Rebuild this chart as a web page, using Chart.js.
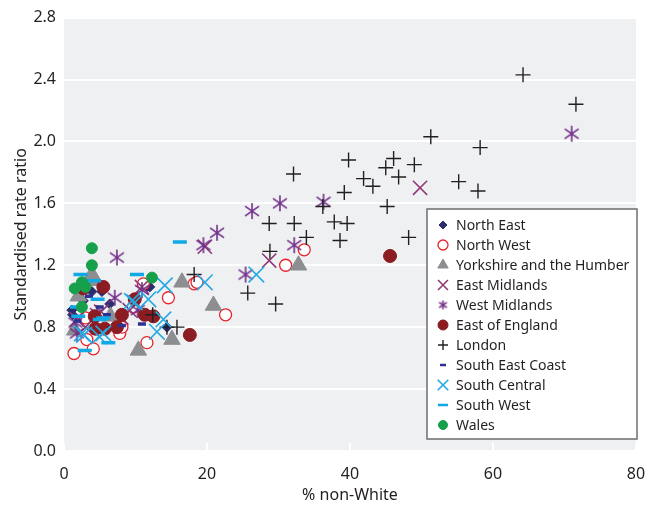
<!DOCTYPE html>
<html>
<head>
<meta charset="utf-8">
<script src="https://cdn.jsdelivr.net/npm/chart.js@4/dist/chart.umd.min.js"></script>
<style>
  html, body { margin: 0; padding: 0; background: #fff; }
  #wrap { width: 652px; height: 505px; position: relative; }
</style>
</head>
<body>
<div id="wrap"><canvas id="rateChart"></canvas></div>
<script>
// Данные: % non-White (x) и standardised rate ratio (y) по регионам
const regions = ['North East', 'North West', 'Yorkshire and the Humber', 'East Midlands',
    'West Midlands', 'East of England', 'London', 'South East Coast', 'South Central',
    'South West', 'Wales'];

const northEast = [[1.1, 0.91], [1.2, 0.88], [2.7, 0.97], [3.9, 1.03], [5.3, 1.03], [5.5, 1.04],
    [4.5, 0.79], [6.4, 0.95], [8.3, 0.82], [11.6, 1.06], [12.0, 1.06], [14.4, 0.80]];
const northWest = [[1.4, 0.63], [3.2, 0.72], [4.1, 0.66], [7.8, 0.76], [8.1, 0.80], [9.7, 0.93],
    [11.1, 1.08], [11.6, 0.70], [14.6, 0.99], [18.2, 1.08], [18.6, 1.09], [22.6, 0.88],
    [31.0, 1.20], [33.6, 1.30], [3.0, 0.86]];
const yorkshire = [[2.0, 1.00], [3.9, 1.14], [4.1, 1.10], [1.5, 0.78], [6.5, 0.87], [10.4, 0.65],
    [15.1, 0.72], [16.5, 1.09], [20.9, 0.94], [32.8, 1.20]];
const eastMidlands = [[1.8, 0.85], [3.0, 0.80], [5.2, 0.90], [9.2, 0.91], [10.9, 1.06],
    [19.7, 1.32], [28.7, 1.23], [49.8, 1.70]];
const westMidlands = [[1.6, 0.83], [1.8, 0.76], [4.6, 0.89], [7.1, 0.99], [7.4, 1.25],
    [10.3, 0.91], [10.9, 1.04], [21.4, 1.41], [19.5, 1.33], [25.4, 1.14], [26.3, 1.55],
    [30.2, 1.60], [32.2, 1.33], [36.3, 1.61], [71.0, 2.05]];
const eastOfEngland = [[2.7, 1.05], [4.3, 0.87], [4.4, 0.79], [5.5, 1.06], [5.7, 0.79],
    [7.4, 0.80], [8.1, 0.88], [9.9, 0.98], [11.3, 0.88], [12.5, 0.87], [17.6, 0.75],
    [45.6, 1.26]];
const london = [[12.4, 0.88], [14.4, 0.80], [15.8, 0.80], [18.2, 1.14], [25.7, 1.02],
    [28.7, 1.47], [28.8, 1.29], [29.6, 0.95], [32.1, 1.79], [32.2, 1.47], [33.9, 1.38],
    [36.2, 1.58], [37.8, 1.48], [38.6, 1.36], [39.2, 1.67], [39.6, 1.47], [39.8, 1.88],
    [41.9, 1.76], [43.2, 1.71], [45.0, 1.83], [45.2, 1.58], [46.1, 1.89], [46.8, 1.77],
    [48.2, 1.38], [49.0, 1.85], [51.3, 2.03], [55.2, 1.74], [57.9, 1.68], [58.2, 1.96],
    [64.2, 2.43], [71.6, 2.24]];
const southEastCoast = [[1.9, 0.84], [5.0, 0.93], [6.0, 0.88], [8.1, 0.81], [10.9, 0.82],
    [3.5, 1.00]];
const southCentral = [[2.5, 0.76], [2.8, 0.75], [4.9, 0.74], [5.5, 0.76], [9.5, 0.97],
    [9.9, 0.96], [11.8, 0.98], [13.0, 0.77], [13.9, 0.85], [14.1, 1.07], [19.7, 1.09],
    [26.9, 1.14]];
const southWest = [[2.0, 0.87], [2.3, 1.14], [2.9, 0.65], [4.2, 1.10], [4.7, 0.98],
    [5.0, 0.85], [5.5, 0.86], [6.2, 0.70], [10.2, 1.14], [16.2, 1.35], [1.8, 0.93]];
const wales = [[1.5, 1.05], [2.5, 1.09], [2.5, 0.93], [3.0, 1.06], [3.9, 1.20], [3.9, 1.31],
    [12.3, 1.12]];

const xTicks = [0, 20, 40, 60, 80];
const yTicks = [0, 0.4, 0.8, 1.2, 1.6, 2.0, 2.4, 2.8];

// Звёздочка из трёх линий для West Midlands
function makeAsterisk(color, size) {
    const c = document.createElement('canvas');
    c.width = size;
    c.height = size;
    const g = c.getContext('2d');
    const h = size / 2;
    const r = h - 1;
    g.strokeStyle = color;
    g.lineWidth = 1.6;
    g.beginPath();
    g.moveTo(h, h - r); g.lineTo(h, h + r);
    g.moveTo(h - r * 0.87, h - r * 0.6); g.lineTo(h + r * 0.87, h + r * 0.6);
    g.moveTo(h + r * 0.87, h - r * 0.6); g.lineTo(h - r * 0.87, h + r * 0.6);
    g.stroke();
    return c;
}

const toPoints = arr => arr.map(p => ({ x: p[0], y: p[1] }));

// lr — радиус значка в легенде
const styles = [
    { data: northEast, pointStyle: 'rectRot', radius: 5, bg: '#2b2d6e', border: '#2b2d6e', bw: 1, lr: 4 },
    { data: northWest, pointStyle: 'circle', radius: 6, bg: '#ffffff', border: '#e8232a', bw: 1.3, lr: 5 },
    { data: yorkshire, pointStyle: 'triangle', radius: 9.5, bg: '#8d8e91', border: '#8d8e91', bw: 1, lr: 6 },
    { data: eastMidlands, pointStyle: 'crossRot', radius: 10, bg: '#8e3a76', border: '#8e3a76', bw: 1.6, lr: 7 },
    { data: westMidlands, pointStyle: makeAsterisk('#72308a', 18), radius: 9, bg: '#72308a', border: '#72308a', bw: 1.6, lr: 5 },
    { data: eastOfEngland, pointStyle: 'circle', radius: 6.5, bg: '#8a1c22', border: '#8a1c22', bw: 1, lr: 5 },
    { data: london, pointStyle: 'cross', radius: 7.5, bg: '#231f20', border: '#231f20', bw: 1.4, lr: 5 },
    { data: southEastCoast, pointStyle: 'line', radius: 4, bg: '#2e3192', border: '#2e3192', bw: 3.5, lr: 3 },
    { data: southCentral, pointStyle: 'crossRot', radius: 11, bg: '#23aae2', border: '#23aae2', bw: 1.6, lr: 7.5 },
    { data: southWest, pointStyle: 'line', radius: 7, bg: '#11a8e6', border: '#11a8e6', bw: 3.5, lr: 5 },
    { data: wales, pointStyle: 'circle', radius: 5.5, bg: '#16a04b', border: '#16a04b', bw: 1, lr: 4.5 }
];

const datasets = styles.map((s, i) => ({
    label: regions[i],
    data: toPoints(s.data),
    pointStyle: s.pointStyle,
    pointRadius: s.radius,
    pointHoverRadius: s.radius,
    backgroundColor: s.bg,
    borderColor: s.border,
    borderWidth: s.bw,
    legendRadius: s.lr,
    order: 10 - i
}));

const plotBackground = {
    id: 'plotBackground',
    beforeDraw(chart) {
        const { ctx, chartArea: a, scales } = chart;
        ctx.save();
        ctx.fillStyle = '#eff0f2';
        ctx.fillRect(a.left, a.top, a.right - a.left, a.bottom - a.top);
        // маленькие белые засечки внутри области
        ctx.strokeStyle = '#ffffff';
        ctx.lineWidth = 2;
        ctx.beginPath();
        xTicks.forEach(v => {
            const x = scales.x.getPixelForValue(v);
            ctx.moveTo(x, a.bottom);
            ctx.lineTo(x, a.bottom - 8);
        });
        ctx.stroke();
        ctx.restore();
    }
};

const boxLegend = {
    id: 'boxLegend',
    afterDatasetsDraw(chart) {
        const { ctx, chartArea: a } = chart;
        const w = 210, h = 230;
        const left = a.right - w + 1, top = a.bottom - 12 - h;
        ctx.save();
        ctx.fillStyle = '#ffffff';
        ctx.fillRect(left, top, w, h);
        ctx.strokeStyle = '#6d6e71';
        ctx.lineWidth = 1.5;
        ctx.strokeRect(left, top, w, h);
        ctx.font = '14px "Noto Sans"';
        ctx.textBaseline = 'middle';
        chart.data.datasets.forEach((ds, i) => {
            const y = top + 16 + i * 20;
            const mx = left + 16;
            ctx.fillStyle = ds.backgroundColor;
            ctx.strokeStyle = ds.borderColor;
            ctx.lineWidth = Math.min(ds.borderWidth, 2.5);
            Chart.helpers.drawPoint(ctx, {
                pointStyle: ds.pointStyle instanceof HTMLCanvasElement ? makeAsterisk(ds.borderColor, 11) : ds.pointStyle,
                radius: ds.legendRadius,
                rotation: 0,
                borderWidth: ctx.lineWidth
            }, mx, y);
            ctx.fillStyle = '#231f20';
            ctx.fillText(ds.label, left + 29, y + 1);
        });
        ctx.restore();
    }
};

new Chart(document.getElementById('rateChart'), {
    type: 'scatter',
    data: { datasets },
    options: {
        responsive: true,
        maintainAspectRatio: false,
        animation: false,
        layout: { padding: { left: 0, right: 16, top: 17, bottom: 0 } },
        plugins: {
            legend: { display: false },
            tooltip: { enabled: false }
        },
        scales: {
            x: {
                type: 'linear',
                min: 0,
                max: 80,
                afterBuildTicks: s => { s.ticks = xTicks.map(v => ({ value: v })); },
                afterFit: s => { s.height = 54; },
                grid: { display: false },
                border: { display: false },
                ticks: { color: '#231f20', font: { family: 'Noto Sans', size: 16 }, padding: 6 },
                title: {
                    display: true,
                    text: '% non-White',
                    color: '#231f20',
                    font: { family: 'Noto Sans', size: 16 },
                    padding: { top: 0, bottom: 0 }
                }
            },
            y: {
                type: 'linear',
                min: 0,
                max: 2.8,
                afterBuildTicks: s => { s.ticks = yTicks.map(v => ({ value: v })); },
                afterFit: s => { s.width = 64; },
                grid: { color: '#ffffff', lineWidth: 2, drawTicks: false },
                border: { display: false },
                ticks: {
                    color: '#231f20',
                    font: { family: 'Noto Sans', size: 16 },
                    padding: 8,
                    callback: v => v.toFixed(1)
                },
                title: {
                    display: true,
                    text: 'Standardised rate ratio',
                    color: '#231f20',
                    font: { family: 'Noto Sans', size: 16 },
                    padding: { top: 12, bottom: 0 }
                }
            }
        }
    },
    plugins: [plotBackground, boxLegend]
});
</script>
</body>
</html>
